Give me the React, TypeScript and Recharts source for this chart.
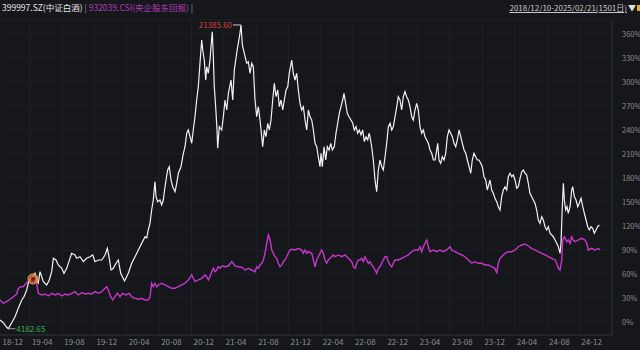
import React from 'react'
import { LineChart, Line, XAxis, YAxis, CartesianGrid, ReferenceDot } from 'recharts'

// months since 2018-12-01
const liquorMonths = [
  0.3, 0.71, 1.13, 1.33, 1.75, 2.16, 2.56, 2.99, 3.27, 3.6, 3.8, 4.1, 4.42, 4.63, 4.84, 5.04, 5.25, 5.46, 5.66, 6.08,
  6.4, 6.7, 6.9, 7.23, 7.52, 7.94, 8.22, 8.55, 8.96, 9.17, 9.58, 9.79, 10.2, 10.61, 11.03, 11.44, 11.77, 12.06, 12.47, 12.89,
  13.3, 13.58, 13.79, 14.04, 14.32, 14.66, 14.94, 15.24, 15.71, 16.18, 16.6, 17.01, 17.42, 17.84, 18.25, 18.46, 18.65, 18.86, 19.07, 19.27,
  19.48, 19.61, 19.82, 20.1, 20.31, 20.51, 20.72, 21.05, 21.25, 21.46, 21.67, 21.96, 22.17, 22.37, 22.7, 22.99, 23.2, 23.41, 23.6, 23.82,
  24.03, 24.22, 24.43, 24.64, 24.84, 25.05, 25.26, 25.39, 25.58, 25.76, 25.88, 26.08, 26.29, 26.41, 26.57, 26.7, 26.82, 26.99, 27.16, 27.24,
  27.44, 27.74, 27.94, 28.15, 28.36, 28.56, 28.89, 29.1, 29.3, 29.59, 29.79, 30.0, 30.13, 30.29, 30.54, 30.83, 31.03, 31.24, 31.45, 31.65,
  31.86, 32.07, 32.27, 32.48, 32.69, 32.81, 33.01, 33.22, 33.43, 33.63, 33.84, 34.05, 34.25, 34.46, 34.67, 34.87, 35.08, 35.29, 35.49, 35.7,
  35.91, 36.1, 36.4, 36.6, 36.81, 37.02, 37.22, 37.43, 37.64, 37.84, 38.05, 38.26, 38.46, 38.67, 38.88, 39.08, 39.29, 39.5, 39.69, 39.9,
  40.03, 40.19, 40.4, 40.61, 40.81, 41.02, 41.23, 41.43, 41.67, 41.88, 42.09, 42.29, 42.5, 42.71, 42.87, 43.08, 43.28, 43.49, 43.74, 43.95,
  44.15, 44.36, 44.57, 44.77, 44.98, 45.19, 45.39, 45.6, 45.81, 45.97, 46.09, 46.3, 46.5, 46.71, 46.92, 47.12, 47.33, 47.54, 47.74, 47.95,
  48.16, 48.36, 48.57, 48.78, 48.98, 49.19, 49.4, 49.59, 49.8, 50.01, 50.21, 50.42, 50.63, 50.83, 51.04, 51.25, 51.45, 51.66, 51.87, 52.07,
  52.28, 52.49, 52.69, 52.9, 53.11, 53.31, 53.52, 53.73, 53.93, 54.14, 54.35, 54.47, 54.63, 54.84, 55.04, 55.25, 55.46, 55.66, 55.87, 56.08,
  56.28, 56.49, 56.7, 56.9, 57.11, 57.32, 57.52, 57.73, 57.94, 58.14, 58.35, 58.56, 58.75, 58.96, 59.17, 59.37, 59.58, 59.79, 59.99, 60.2,
  60.41, 60.61, 60.94, 61.15, 61.35, 61.56, 61.77, 61.97, 62.18, 62.39, 62.59, 62.8, 63.01, 63.21, 63.42, 63.63, 63.83, 64.04, 64.25, 64.45,
  64.66, 64.87, 65.07, 65.28, 65.49, 65.68, 65.89, 66.1, 66.3, 66.51, 66.72, 66.92, 67.13, 67.34, 67.54, 67.75, 67.96, 68.16, 68.37, 68.58,
  68.78, 68.99, 69.2, 69.4, 69.61, 69.73, 69.89, 70.02, 70.14, 70.31, 70.47, 70.63, 70.85, 71.05, 71.18, 71.38, 71.59, 71.8, 71.99, 72.21,
  72.42, 72.62, 72.83, 73.04, 73.23, 73.44, 73.65, 73.85, 74.06, 74.27, 74.47,
]

// 399997.SZ cumulative change, %
const liquorPct = [
  2.5, -0.9, -6.6, -8.4, -0.9, 6.6, 17.1, 27.5, 31.6, 40, 48.4, 54.6, 57.5, 60.9, 52.5, 48.8, 62.9, 56.6, 50.4, 46.3,
  52.5, 62.9, 79.6, 77.5, 71.3, 67.1, 60.9, 67.1, 79.6, 85.9, 83.8, 79.6, 81.6, 75.4, 79.6, 81.6, 83.8, 75.4, 77.5, 77.5,
  83.8, 92.1, 81.6, 65, 67.1, 73.4, 77.5, 60.9, 51.3, 60.9, 73.4, 81.6, 90, 98.4, 106.6, 105, 115, 123.4, 140, 152.5,
  175.4, 156.6, 150.4, 152.5, 146.3, 152.5, 169.1, 190, 194.1, 177.5, 169.1, 162.9, 173.4, 185.9, 194.1, 210.9, 219.1, 235.9, 240, 231.6,
  223.4, 240, 256.6, 277.5, 294.1, 323.4, 352.5, 340, 327.5, 302.5, 319.1, 310.9, 327.5, 344.1, 362.9, 331.6, 294.1, 269.1, 240, 217.1,
  244.1, 240, 256.6, 277.5, 265, 285.9, 302.5, 277.5, 315, 335.9, 348.4, 360.9, 371.3, 346.3, 335.9, 323.4, 325.4, 310.9, 323.4, 319.1,
  277.5, 256.6, 269.1, 252.5, 231.6, 219.1, 240, 231.6, 248.4, 240, 252.5, 277.5, 298.4, 281.6, 290, 269.1, 277.5, 265, 277.5, 290,
  294.1, 310.9, 327.5, 310.9, 302.5, 310.9, 290, 273.4, 265, 269.1, 252.5, 240, 265, 256.6, 252.5, 240, 223.4, 219.1, 206.6, 194.1,
  210.9, 194.1, 219.1, 202.5, 219.1, 215, 223.4, 215, 219.1, 235.9, 248.4, 260.9, 269.1, 277.5, 285.9, 273.4, 260.9, 256.6, 252.5, 248.4,
  240, 244.1, 235.9, 240, 233.8, 240, 225.4, 231.6, 227.5, 235.9, 231.6, 219.1, 202.5, 177.5, 162.9, 190, 202.5, 194.1, 190, 206.6,
  223.4, 244.1, 248.4, 240, 244.1, 256.6, 269.1, 281.6, 277.5, 265, 281.6, 287.9, 281.6, 277.5, 269.1, 256.6, 252.5, 265, 273.4, 265,
  244.1, 235.9, 240, 231.6, 227.5, 223.4, 215, 210.9, 202.5, 202.5, 215, 223.4, 202.5, 198.4, 206.6, 202.5, 210.9, 231.6, 240, 235.9,
  231.6, 223.4, 219.1, 227.5, 240, 231.6, 223.4, 215, 210.9, 202.5, 194.1, 185.9, 202.5, 210.9, 206.6, 202.5, 202.5, 198.4, 194.1, 181.6,
  177.5, 165, 177.5, 165, 160.9, 154.6, 150.4, 144.1, 140, 156.6, 165, 169.1, 165, 181.6, 185.9, 181.6, 183.8, 177.5, 167.1, 169.1,
  179.6, 187.9, 190, 185.9, 183.8, 173.4, 160.9, 156.6, 152.5, 148.4, 140, 127.5, 123.4, 131.6, 127.5, 119.1, 115, 119.1, 110.9, 108.8,
  106.6, 102.5, 98.4, 94.1, 85.9, 98.4, 144.1, 173.4, 152.5, 140, 144.1, 135.9, 144.1, 165, 169.1, 156.6, 152.5, 144.1, 148.4, 154.6,
  144.1, 135.9, 127.5, 119.1, 115, 119.1, 117.1, 110.9, 115, 119.1, 121.3,
]

const sohMonths = [
  0.3, 0.71, 1.13, 1.54, 1.95, 2.37, 2.56, 2.86, 3.18, 3.52, 3.8, 4.1, 4.42, 4.63, 4.84, 5.04, 5.46, 5.87, 6.28, 6.7,
  7.11, 7.52, 7.94, 8.34, 8.75, 9.17, 9.58, 9.99, 10.41, 10.82, 11.23, 11.65, 12.06, 12.47, 12.89, 13.3, 13.51, 13.7, 14.0, 14.25,
  14.53, 14.82, 15.15, 15.49, 15.89, 16.3, 16.6, 17.01, 17.42, 17.84, 18.25, 18.65, 18.86, 19.07, 19.27, 19.48, 19.69, 19.89, 20.31, 20.72,
  21.13, 21.55, 21.96, 22.37, 22.79, 23.2, 23.6, 24.03, 24.22, 24.43, 24.84, 25.26, 25.67, 25.88, 26.08, 26.29, 26.5, 26.7, 26.91, 27.12,
  27.32, 27.53, 27.74, 28.15, 28.56, 28.98, 29.17, 29.38, 29.79, 30.21, 30.62, 31.03, 31.45, 31.86, 32.07, 32.27, 32.48, 32.69, 32.89, 33.1,
  33.31, 33.51, 33.72, 33.93, 34.13, 34.34, 34.55, 34.74, 34.95, 35.16, 35.36, 35.57, 35.78, 35.98, 36.19, 36.4, 36.81, 37.22, 37.64, 37.84,
  38.05, 38.26, 38.46, 38.88, 39.08, 39.29, 39.5, 39.69, 39.9, 40.11, 40.31, 40.52, 40.73, 40.93, 41.14, 41.35, 41.55, 41.76, 42.17, 42.59,
  43.0, 43.41, 43.83, 44.03, 44.24, 44.45, 44.64, 44.86, 45.06, 45.26, 45.47, 45.68, 45.88, 46.09, 46.3, 46.5, 46.71, 46.92, 47.12, 47.33,
  47.54, 47.74, 47.95, 48.16, 48.36, 48.57, 48.78, 48.98, 49.19, 49.59, 50.01, 50.42, 50.83, 51.25, 51.66, 52.07, 52.28, 52.49, 52.69, 52.9,
  53.11, 53.31, 53.52, 53.93, 54.35, 54.76, 55.16, 55.58, 55.99, 56.2, 56.61, 57.02, 57.44, 57.85, 58.26, 58.68, 59.09, 59.5, 59.92, 60.33,
  60.73, 61.15, 61.56, 61.77, 61.97, 62.18, 62.39, 62.59, 62.8, 63.21, 63.63, 64.04, 64.45, 64.87, 65.28, 65.68, 66.1, 66.51, 66.92, 67.34,
  67.75, 68.16, 68.58, 68.99, 69.2, 69.4, 69.61, 69.82, 69.94, 70.14, 70.44, 70.63, 70.85, 71.05, 71.25, 71.46, 71.87, 72.29, 72.7, 72.91,
  73.11, 73.53, 73.94, 74.35, 74.56,
]

// 932039.CSI cumulative change, %
const sohPct = [
  27.5, 23.4, 25.4, 28.4, 31.6, 35, 42.1, 44.1, 44.1, 48.4, 50.4, 54.6, 52.5, 52.5, 48.4, 35.9, 33.8, 35, 32.5, 35.9,
  33.8, 35.9, 32.5, 35, 33.8, 35.9, 37.9, 33.8, 36.6, 35, 35.9, 35, 37.9, 35.9, 37.9, 42.1, 44.1, 40, 31.6, 27.5,
  31.6, 35.9, 31.6, 35.9, 33.8, 35.9, 31.6, 29.6, 28.4, 29.6, 27.5, 27.5, 31.6, 48.4, 44.1, 48.4, 44.1, 46.3, 48.4, 46.3,
  44.1, 42.1, 42.1, 44.1, 46.3, 48.4, 52.5, 58.8, 54.6, 50.4, 52.5, 54.6, 58.8, 56.6, 52.5, 56.6, 62.9, 67.1, 62.9, 65,
  69.1, 67.1, 70, 69.1, 70, 75.4, 73.4, 70, 69.1, 68.4, 65, 67.1, 65, 62.9, 69.1, 67.1, 71.3, 73.4, 77.5, 85.9,
  98.4, 108.8, 102.5, 90, 85.9, 81.6, 79.6, 73.4, 69.1, 71.3, 75.4, 77.5, 81.6, 85.9, 90, 90.9, 90, 92.1, 90, 85.9,
  90, 85.9, 87.9, 85.9, 77.5, 69.1, 77.5, 81.6, 85.9, 90, 85.9, 77.5, 73.4, 77.5, 79.6, 81.6, 83.8, 81.6, 83.8, 81.6,
  83.8, 79.6, 75.4, 69.1, 67.1, 73.4, 77.5, 77.5, 79.6, 75.4, 81.6, 77.5, 73.4, 75.4, 71.3, 69.1, 65, 60.9, 67.1, 69.1,
  73.4, 77.5, 81.6, 81.6, 75.4, 71.3, 69.1, 73.4, 77.5, 77.5, 79.6, 81.6, 83.8, 87.9, 90, 90, 94.1, 87.9, 94.1, 98.4,
  102.5, 94.1, 87.9, 90, 87.9, 90, 87.9, 90, 94.1, 90, 87.9, 85.9, 83.8, 81.6, 77.5, 73.4, 75.4, 73.4, 73.4, 71.3,
  71.3, 69.1, 67.1, 60.9, 73.4, 79.6, 81.6, 83.8, 85.9, 87.9, 87.9, 90, 94.1, 96.3, 97.5, 95, 92.1, 90, 87.9, 85.9,
  83.8, 81.6, 79.6, 77.5, 73.4, 67.1, 65, 77.5, 102.5, 106.6, 100.4, 102.5, 98.4, 106.6, 102.5, 100.4, 102.5, 104.6, 102.5, 98.4,
  90, 92.1, 90, 92.1, 90,
]

// first label sits on the first trading day (2018-12-10)
const monthTicks = [0.3, 4, 8, 12, 16, 20, 24, 28, 32, 36, 40, 44, 48, 52, 56, 60, 64, 68, 72]
const monthLabels = ['18-12', '19-04', '19-08', '19-12', '20-04', '20-08', '20-12', '21-04', '21-08', '21-12',
  '22-04', '22-08', '22-12', '23-04', '23-08', '23-12', '24-04', '24-08', '24-12']
const pctTicks = [0, 30, 60, 90, 120, 150, 180, 210, 240, 270, 300, 330, 360]

const maxLabel = '21385.60'
const minLabel = '4182.65'
const markerPoint = { m: 4.38, pct: 53.8 }

const liquorData = liquorMonths.map((m, i) => ({ m, pct: liquorPct[i] }))
const sohData = sohMonths.map((m, i) => ({ m, pct: sohPct[i] }))

const maxIdx = liquorPct.indexOf(Math.max(...liquorPct))
const minIdx = liquorPct.indexOf(Math.min(...liquorPct))

const BG = '#15171b'
const AXIS = '#8a8e95'
const FONT = '"Noto Sans CJK SC", "Noto Sans", sans-serif'

// bottom labels sit just under the axis line (y=335), left-aligned on the tick
function MonthTick(props: any) {
  const { x, payload } = props
  const i = monthTicks.indexOf(payload.value)
  return (
    <text x={Math.max(x + 2, 2.5)} y={345} textAnchor="start" fill={AXIS} fontSize={8} fontFamily={FONT}>
      {monthLabels[i]}
    </text>
  )
}

function PctTick(props: any) {
  const { x, y, payload } = props
  return (
    <text x={x + 2} y={y + 3} textAnchor="start" fill={AXIS} fontSize={7.5} fontFamily={FONT}>
      {payload.value}%
    </text>
  )
}

export default function App() {
  return (
    <div style={{ position: 'fixed', left: 0, top: 0, width: 640, height: 350, background: BG, fontFamily: FONT }}>
      <LineChart width={640} height={350} data={liquorData} margin={{ top: 20, right: 0, bottom: 0, left: 0 }}>
        <CartesianGrid stroke="#1e2126" strokeWidth={1} />
        <XAxis
          dataKey="m"
          type="number"
          domain={[0.3, 76.04]}
          ticks={monthTicks}
          interval={0}
          tick={<MonthTick />}
          tickLine={false}
          axisLine={{ stroke: '#2b2e34' }}
          height={15}
          allowDataOverflow
        />
        <YAxis
          orientation="right"
          type="number"
          domain={[-16.25, 377.5]}
          ticks={pctTicks}
          interval={0}
          tick={<PctTick />}
          tickLine={false}
          axisLine={{ stroke: '#2b2e34' }}
          width={28}
          allowDataOverflow
        />
        <Line data={sohData} dataKey="pct" stroke="#c935cf" strokeWidth={1.4} dot={false} isAnimationActive={false} />
        <Line data={liquorData} dataKey="pct" stroke="#f2f2f2" strokeWidth={1.2} dot={false} isAnimationActive={false} />
        <ReferenceDot
          x={liquorMonths[maxIdx]}
          y={liquorPct[maxIdx]}
          r={0}
          shape={(p: any) => (
            <g>
              <line x1={p.cx - 8} y1={p.cy} x2={p.cx} y2={p.cy} stroke="#cfcfcf" strokeWidth={1} />
              <text x={p.cx - 9} y={p.cy + 3} textAnchor="end" fill="#d8413c" fontSize={8} fontFamily={FONT}>{maxLabel}</text>
            </g>
          )}
        />
        <ReferenceDot
          x={liquorMonths[minIdx]}
          y={liquorPct[minIdx]}
          r={0}
          shape={(p: any) => (
            <g>
              <line x1={p.cx} y1={p.cy} x2={p.cx + 7} y2={p.cy} stroke="#9a9a9a" strokeWidth={1} />
              <text x={p.cx + 8} y={p.cy + 3} textAnchor="start" fill="#3fae5a" fontSize={8} fontFamily={FONT}>{minLabel}</text>
            </g>
          )}
        />
        <ReferenceDot
          x={markerPoint.m}
          y={markerPoint.pct}
          r={0}
          shape={(p: any) => (
            <g>
              <circle cx={p.cx} cy={p.cy} r={5} fill="#d0703c" fillOpacity={0.75} stroke="#f0a050" strokeWidth={1} />
              <circle cx={p.cx} cy={p.cy} r={2} fill="#7a1414" />
            </g>
          )}
        />
      </LineChart>
      <div style={{ position: 'absolute', left: 2, top: 1, fontSize: 8.5, lineHeight: '13px', whiteSpace: 'nowrap' }}>
        <span style={{ color: '#e6e6e6' }}>399997.SZ(中证白酒)</span>
        <span style={{ color: '#9a9a9a' }}> | </span>
        <span style={{ color: '#b23cb8' }}>932039.CSI(央企股东回报)</span>
        <span style={{ color: '#9a9a9a' }}> |</span>
      </div>
      <div style={{ position: 'absolute', right: 4, top: 1, fontSize: 8, lineHeight: '13px', whiteSpace: 'nowrap', color: '#c8c8c8' }}>
        <span style={{ textDecoration: 'underline' }}>2018/12/10-2025/02/21(1501日)</span>
        <span style={{ color: '#e0e0e0', marginLeft: 1 }}>▼</span>
      </div>
      <div style={{ position: 'absolute', right: 0, top: 5, width: 3, height: 6, background: '#e0b020' }} />
    </div>
  )
}
